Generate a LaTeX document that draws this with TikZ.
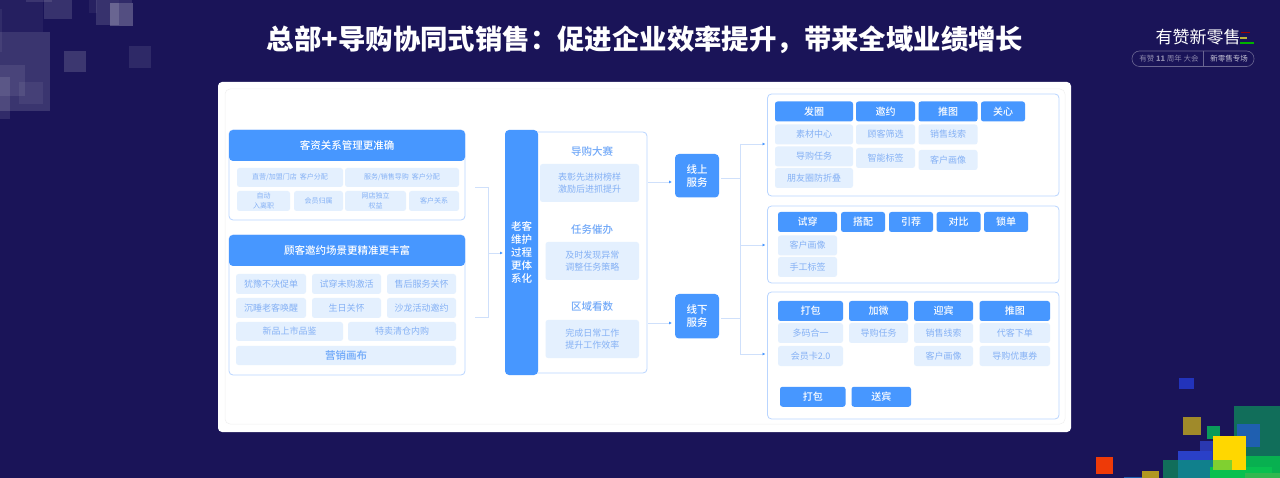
\documentclass[tikz,border=0pt]{standalone}
\usepackage{fontspec}
\setmainfont{Noto Sans CJK SC}
\newfontface\cjkmed{Noto Sans CJK SC Medium}
\usetikzlibrary{arrows.meta}
\definecolor{navy}{HTML}{1A1458}
\definecolor{brandblue}{HTML}{4797FF}
\definecolor{paleblue}{HTML}{E4F0FE}
\definecolor{softtext}{HTML}{85B1F5}
\definecolor{edgeblue}{HTML}{B9D5FF}
\definecolor{linkblue}{HTML}{CFE0FB}
\tikzset{
  boxbase/.style={inner sep=0pt, outer sep=0pt, align=center, rounded corners=2.5pt},
  head/.style={boxbase, fill=brandblue, text=white, minimum height=20pt, font=\fontsize{10}{13}\selectfont\cjkmed},
  sub/.style={boxbase, fill=paleblue, text=softtext, minimum height=20pt, font=\fontsize{9}{12}\selectfont},
  tiny/.style={sub, font=\fontsize{7}{9.5}\selectfont},
  group/.style={boxbase, draw=edgeblue, fill=white, line width=0.8pt},
  bigbar/.style={boxbase, rounded corners=4pt, fill=brandblue, text=white, minimum width=236pt, minimum height=31pt, font=\fontsize{10.5}{13}\selectfont\cjkmed},
  service/.style={boxbase, rounded corners=4pt, fill=brandblue, text=white, minimum width=44pt, font=\fontsize{10.5}{13}\selectfont\cjkmed},
  caption/.style={inner sep=0pt, text=softtext!70!brandblue, font=\fontsize{10.5}{13}\selectfont\cjkmed},
  link/.style={draw=linkblue, line width=0.8pt},
  linkto/.style={link, -{Latex[length=3pt,width=3pt,color=brandblue]}, shorten >=2pt}
}
\begin{document}
\begin{tikzpicture}[x=1pt,y=-1pt]
\useasboundingbox (0,0) rectangle (1280,478);
\fill[navy] (0,0) rectangle (1280,478);

% squares top left
\fill[white,opacity=.05] (0,0) rectangle (43,32);
\fill[white,opacity=.14] (0,32) rectangle (50,111);
\fill[white,opacity=.08] (0,65) rectangle (25,96);
\fill[white,opacity=.10] (0,77) rectangle (10,119);
\fill[white,opacity=.06] (19,82) rectangle (43,104);
\fill[white,opacity=.06] (0,9) rectangle (2,52);
\fill[white,opacity=.13] (44,0) rectangle (72,19);
\fill[white,opacity=.10] (26,0) rectangle (52,2);
\fill[white,opacity=.15] (64,51) rectangle (86,72);
\fill[white,opacity=.09] (129,46) rectangle (151,68);
\fill[white,opacity=.06] (89,0) rectangle (97,13);
\fill[white,opacity=.13] (96,0) rectangle (119,25);
\fill[white,opacity=.10] (119,0) rectangle (132,3);
\fill[white,opacity=.25] (110,3) rectangle (133,26);

% squares bottom right
\fill[fill={rgb,255:red,34;green,51;blue,187}] (1179,378) rectangle (1194,389);
\fill[fill={rgb,255:red,160;green,138;blue,42}] (1183,417) rectangle (1201,435);
\fill[fill={rgb,255:red,10;green,154;blue,90}] (1207,426) rectangle (1220,439);
\fill[fill={rgb,255:red,17;green,110;blue,90}] (1234,406) rectangle (1280,478);
\fill[fill={rgb,255:red,31;green,95;blue,176}] (1237,424) rectangle (1260,447);
\fill[fill={rgb,255:red,8;green,176;blue,80}] (1246,456) rectangle (1280,478);
\fill[fill={rgb,255:red,42;green,56;blue,176}] (1200,441) rectangle (1213,470);
\fill[fill={rgb,255:red,42;green,64;blue,200}] (1178,451) rectangle (1212,478);
\fill[fill={rgb,255:red,17;green,110;blue,90}] (1163,460) rectangle (1178,478);
\fill[fill={rgb,255:red,16;green,128;blue,140}] (1178,460) rectangle (1213,478);
\fill[fill={rgb,255:red,8;green,192;blue,80}] (1210,467) rectangle (1272,478);
\fill[fill={rgb,255:red,255;green,215;blue,0}] (1213,436) rectangle (1246,470);
\fill[fill={rgb,255:red,128;green,208;blue,48}] (1213,460) rectangle (1232,470);
\fill[fill={rgb,255:red,48;green,184;blue,80}] (1245,473) rectangle (1280,478);
\fill[fill={rgb,255:red,238;green,58;blue,8}] (1096,457) rectangle (1113,474);
\fill[fill={rgb,255:red,176;green,152;blue,32}] (1142,471) rectangle (1159,478);
\fill[fill={rgb,255:red,31;green,95;blue,176}] (1124,477) rectangle (1142,478);

% title and logo
\node[text=white, inner sep=0pt, font=\fontsize{27.4}{30}\selectfont\bfseries] (title) at (645,40) {总部+导购协同式销售^^^^ff1a促进企业效率提升^^^^ff0c带来全域业绩增长};
\node[text=white, inner sep=0pt, font=\fontsize{17}{20}\selectfont] (logo) at (1198,37) {有赞新零售};
\fill[red!60!black] (1241,32) rectangle (1250,33.5);
\fill[yellow!70!black] (1240,37.3) rectangle (1247,38.8);
\fill[green!70!black] (1240,42.5) rectangle (1254,44);
\node[draw=white!35!navy, rounded corners=7.5pt, line width=.6pt, minimum width=122pt, minimum height=15.5pt, inner sep=0pt] (pill) at (1193,58.75) {};
\draw[white!35!navy, line width=.6pt] (pill.north) ++(10,0) -- ++(0,15.5);
\node[text=white!50!navy, inner sep=0pt, font=\fontsize{7.5}{9}\selectfont] (pillA) at (1169,59) {有赞 \textbf{11} 周年 大会};
\node[text=white!75!navy, inner sep=0pt, font=\fontsize{7.5}{9}\selectfont] (pillB) at (1229,59) {新零售专场};

% white panel
\node[boxbase, fill=white, rounded corners=4pt, minimum width=853pt, minimum height=350pt] (sheet) at (644.5,257) {};
\node[boxbase, draw=black!6, rounded corners=5pt, line width=.5pt, minimum width=840pt, minimum height=335pt] (frame) at (645,256.5) {};

% left side
\node[group, rounded corners=4pt, minimum width=236pt, minimum height=90pt] (groupA) at (347,175) {};
\node[bigbar] (barA) at (347,145.5) {客资关系管理更准确};
\node[tiny, minimum width=106pt, minimum height=19pt] (a1) at (290,177.5) {直营/加盟门店\ \ 客户分配};
\node[tiny, minimum width=114pt, minimum height=19pt] (a2) at (402,177.5) {服务/销售导购\ \ 客户分配};
\node[tiny, minimum width=53pt] (a3) at (263.5,201) {自动\\入离职};
\node[tiny, minimum width=49pt] (a4) at (318.5,201) {会员归属};
\node[tiny, minimum width=61pt] (a5) at (375.5,201) {网店独立\\权益};
\node[tiny, minimum width=50pt] (a6) at (434,201) {客户关系};

\node[group, rounded corners=4pt, minimum width=236pt, minimum height=140pt] (groupB) at (347,305) {};
\node[bigbar] (barB) at (347,250.5) {顾客邀约场景更精准更丰富};
\node[sub, minimum width=70pt] (b1) at (271,284) {犹豫不决促单};
\node[sub, minimum width=69pt] (b2) at (346.5,284) {试穿未购激活};
\node[sub, minimum width=69pt] (b3) at (421.5,284) {售后服务关怀};
\node[sub, minimum width=70pt] (b4) at (271,308) {沉睡老客唤醒};
\node[sub, minimum width=69pt] (b5) at (346.5,308) {生日关怀};
\node[sub, minimum width=69pt] (b6) at (421.5,308) {沙龙活动邀约};
\node[sub, minimum width=107pt, minimum height=19pt] (b7) at (289.5,331.5) {新品上市品鉴};
\node[sub, minimum width=108pt, minimum height=19pt] (b8) at (402,331.5) {特卖清仓内购};
\node[sub, minimum width=220pt, minimum height=19pt, text=softtext!60!brandblue, font=\fontsize{10.5}{13}\selectfont\cjkmed] (b9) at (346,355.5) {营销画布};

% middle column
\node[group, rounded corners=4pt, minimum width=117pt, minimum height=241pt] (panel) at (588.5,252.5) {};
\node[boxbase, rounded corners=4pt, fill=brandblue, text=white, minimum width=33pt, minimum height=245pt, font=\fontsize{10.5}{13}\selectfont\cjkmed] (care) at (521.5,252.5) {老客\\维护\\过程\\更体\\系化};
\node[caption] (capA) at (592,151) {导购大赛};
\node[sub, minimum width=99pt, minimum height=38pt] (m1) at (589.5,183) {表彰先进树榜样\\激励后进抓提升};
\node[caption] (capB) at (592,230) {任务催办};
\node[sub, minimum width=93.5pt, minimum height=38pt] (m2) at (592.25,261) {及时发现异常\\调整任务策略};
\node[caption] (capC) at (592,307) {区域看数};
\node[sub, minimum width=93.5pt, minimum height=38pt] (m3) at (592.25,339) {完成日常工作\\提升工作效率};

% services
\node[service, minimum height=43.5pt] (online) at (697,175.75) {线上\\服务};
\node[service, minimum height=44.5pt] (offline) at (697,316.25) {线下\\服务};

% right side, online
\node[group, rounded corners=4pt, minimum width=291.5pt, minimum height=102pt] (groupC) at (913.25,145) {};
\node[head, minimum width=78pt] (c1) at (814,111.5) {发圈};
\node[head, minimum width=59pt] (c2) at (885.5,111.5) {邀约};
\node[head, minimum width=59pt] (c3) at (948,111.5) {推图};
\node[head, minimum width=44pt] (c4) at (1003,111.5) {关心};
\node[sub, minimum width=78pt] (c5) at (814,134.5) {素材中心};
\node[sub, minimum width=78pt] (c6) at (814,156.5) {导购任务};
\node[sub, minimum width=78pt] (c7) at (814,178) {朋友圈防折叠};
\node[sub, minimum width=59pt] (c8) at (885.5,134.5) {顾客筛选};
\node[sub, minimum width=59pt] (c9) at (885.5,158) {智能标签};
\node[sub, minimum width=59pt] (c10) at (948,134.5) {销售线索};
\node[sub, minimum width=59pt] (c11) at (948,160) {客户画像};

% right side, fitting room
\node[group, rounded corners=4pt, minimum width=291.5pt, minimum height=77pt] (groupD) at (913.25,244.5) {};
\node[head, minimum width=59pt] (d1) at (807.5,222) {试穿};
\node[head, minimum width=44pt] (d2) at (863,222) {搭配};
\node[head, minimum width=44pt] (d3) at (911,222) {引荐};
\node[head, minimum width=44pt] (d4) at (958.5,222) {对比};
\node[head, minimum width=44pt] (d5) at (1006,222) {锁单};
\node[sub, minimum width=59pt] (d6) at (807.5,245.5) {客户画像};
\node[sub, minimum width=59pt] (d7) at (807.5,267) {手工标签};

% right side, checkout
\node[group, rounded corners=4pt, minimum width=291.5pt, minimum height=127pt] (groupE) at (913.25,355.5) {};
\node[head, minimum width=65pt] (e1) at (810.5,311) {打包};
\node[head, minimum width=59pt] (e2) at (878.5,311) {加微};
\node[head, minimum width=59pt] (e3) at (943.5,311) {迎宾};
\node[head, minimum width=70.5pt] (e4) at (1014.75,311) {推图};
\node[sub, minimum width=65pt] (e5) at (810.5,333) {多码合一};
\node[sub, minimum width=59pt] (e6) at (878.5,333) {导购任务};
\node[sub, minimum width=59pt] (e7) at (943.5,333) {销售线索};
\node[sub, minimum width=70.5pt] (e8) at (1014.75,333) {代客下单};
\node[sub, minimum width=65pt] (e9) at (810.5,356) {会员卡2.0};
\node[sub, minimum width=59pt] (e10) at (943.5,356) {客户画像};
\node[sub, minimum width=70.5pt] (e11) at (1014.75,356) {导购优惠券};
\node[head, minimum width=65.5pt] (e12) at (812.75,396.75) {打包};
\node[head, minimum width=59.5pt] (e13) at (881.25,396.75) {送宾};

% connectors
\coordinate (leftA) at (475,187);
\coordinate (leftB) at (475,317);
\coordinate (leftTop) at (488,187);
\coordinate (leftBot) at (488,317);
\coordinate (leftMid) at (488,253);
\draw[link] (leftA) -- (leftTop) -- (leftBot) -- (leftB);
\draw[linkto] (leftMid) -- (leftMid -| care.west);
\coordinate (outOn) at (648,182);
\coordinate (outOff) at (648,323);
\draw[linkto, shorten >=3pt] (outOn) -- (outOn -| online.west);
\draw[linkto, shorten >=3pt] (outOff) -- (outOff -| offline.west);
\coordinate (trunkOn) at (740,178);
\coordinate (trunkOff) at (740,318);
\coordinate (trunkA) at (740,144);
\coordinate (trunkB) at (740,245);
\coordinate (trunkC) at (740,354);
\draw[link] (online.east |- trunkOn) ++(2,0) -- (trunkOn);
\draw[link] (offline.east |- trunkOff) ++(2,0) -- (trunkOff);
\draw[link] (trunkA) -- (trunkC);
\draw[linkto] (trunkA) -- (trunkA -| groupC.west);
\draw[linkto] (trunkB) -- (trunkB -| groupD.west);
\draw[linkto] (trunkC) -- (trunkC -| groupE.west);
\end{tikzpicture}
\end{document}
